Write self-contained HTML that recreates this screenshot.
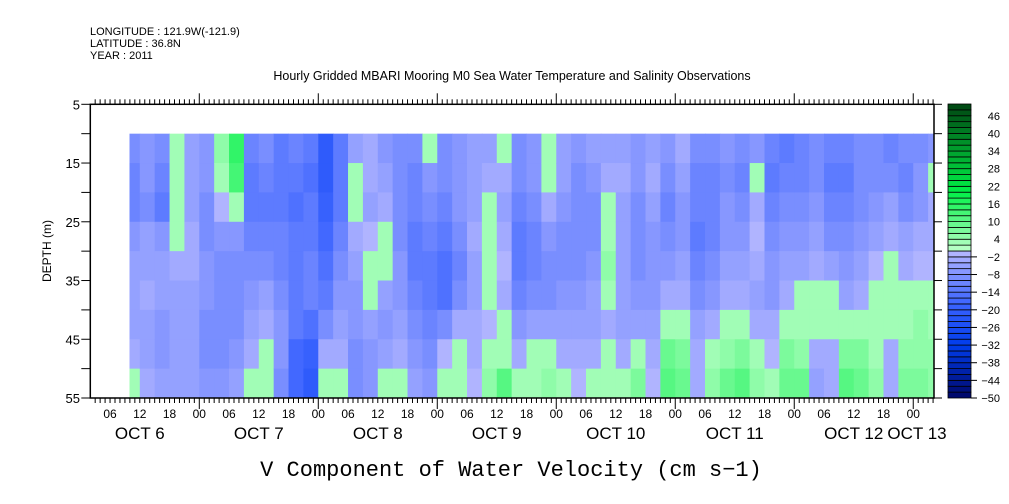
<!DOCTYPE html>
<html><head><meta charset="utf-8"><style>
body{margin:0;background:#fff;width:1009px;height:504px;overflow:hidden}
svg{display:block;font-family:"Liberation Sans",sans-serif}
</style></head><body>
<svg id="chart" width="1009" height="504" viewBox="0 0 1009 504">
<g font-size="11" fill="#000">
<text x="90" y="35">LONGITUDE : 121.9W(-121.9)</text>
<text x="90" y="47">LATITUDE : 36.8N</text>
<text x="90" y="59">YEAR : 2011</text>
</g>
<text x="512" y="80" font-size="12.5" text-anchor="middle">Hourly Gridded MBARI Mooring M0 Sea Water Temperature and Salinity Observations</text>
<g id="cells"></g>
<g id="axes"></g>
<g id="cbar"></g>
<text transform="translate(51,251) rotate(-90)" font-size="12" text-anchor="middle">DEPTH (m)</text>
<text x="511" y="476" font-size="22" text-anchor="middle" font-family="Liberation Mono, monospace">V Component of Water Velocity (cm s−1)</text>
</svg>
<script>
// columns: start hour of each 3h column (hours since Oct 6 00:00)
const colStartHours = [];
for (let k = 0; k < 55; k++) colStartHours.push(9 + 3 * k);
const depthBands = [10,15,20,25,30,35,40,45,50];
const values = [
[-10,-12,-12,-8,-6,-5,-5,-3,2],
[-8,-8,-10,-6,-5,-4,-6,-5,-4],
[-10,-12,-14,-8,-6,-6,-8,-8,-6],
[3,3,2,2,-3,-5,-5,-6,-5],
[-6,-5,-5,-4,-4,-5,-6,-6,-5],
[-8,-8,-10,-10,-8,-8,-10,-10,-8],
[4,3,-2,-8,-10,-10,-10,-10,-8],
[14,12,3,-8,-10,-10,-10,-8,-6],
[-12,-14,-14,-12,-10,-8,-6,-4,2],
[-10,-12,-14,-12,-10,-6,-4,2,3],
[-14,-14,-14,-12,-12,-10,-8,-8,-10],
[-12,-14,-16,-14,-14,-14,-14,-18,-18],
[-14,-16,-14,-14,-12,-12,-16,-20,-22],
[-22,-22,-20,-18,-16,-14,-10,-4,2],
[-14,-14,-14,-12,-10,-8,-6,-4,2],
[-6,2,2,-4,-6,-8,-8,-10,-10],
[-4,-4,-5,-2,2,3,-6,-8,-8],
[-8,-5,-4,2,2,-6,-8,-6,2],
[-10,-10,-10,-10,-8,-8,-6,-3,2],
[-10,-12,-12,-14,-14,-12,-10,-8,-6],
[2,-8,-10,-12,-14,-14,-12,-10,-8],
[-10,-10,-12,-14,-16,-16,-10,-2,3],
[-8,-8,-8,-10,-12,-10,-4,2,3],
[-5,-6,-5,-4,-5,-6,-4,-3,-2],
[-6,-4,2,3,3,3,-2,2,4],
[2,-4,-6,-4,-2,-4,2,3,10],
[-10,-10,-12,-14,-14,-12,-8,-4,2],
[-8,-8,-10,-12,-12,-10,-6,2,3],
[2,2,-4,-8,-10,-10,-6,2,4],
[-6,-6,-8,-10,-10,-8,-6,-4,3],
[-8,-10,-10,-10,-10,-8,-6,-3,-2],
[-6,-8,-10,-10,-8,-6,-6,-4,2],
[-6,-4,2,3,4,3,-4,2,3],
[-5,-4,-5,-6,-6,-6,-6,-3,3],
[-8,-8,-10,-10,-10,-8,-5,3,6],
[-5,-4,-6,-8,-8,-8,-5,-3,-2],
[-8,-10,-12,-10,-8,-4,3,8,10],
[-4,-6,-8,-8,-6,-4,3,6,8],
[-10,-12,-12,-14,-12,-10,-6,-4,-3],
[-10,-12,-12,-12,-10,-8,-3,3,4],
[-8,-10,-8,-8,-6,-4,3,4,8],
[-10,-12,-10,-8,-6,-4,3,6,10],
[-8,2,-4,-2,-4,-6,-4,2,4],
[-12,-14,-12,-10,-8,-8,-4,-2,2],
[-14,-12,-10,-8,-6,-4,3,6,8],
[-12,-12,-10,-8,-6,2,3,4,8],
[-10,-10,-8,-6,-4,2,3,-4,-6],
[-12,-14,-12,-10,-6,3,2,-3,-4],
[-12,-14,-12,-10,-8,-6,2,6,10],
[-10,-10,-10,-8,-6,-3,3,6,8],
[-10,-10,-8,-6,-2,3,3,3,4],
[-12,-10,-6,-4,3,3,2,-3,-4],
[-10,-12,-10,-6,-4,3,3,4,6],
[-10,-8,-8,-4,-2,3,4,4,6],
[-8,2,-4,-3,-2,3,3,4,4]
];
const depthTicks = [5,10,15,20,25,30,35,40,45,50,55];
const depthLabels = ["5","15","25","35","45","55"];
const cbarLabels = [46,40,34,28,22,16,10,4,-2,-8,-14,-20,-26,-32,-38,-44,-50];
const dayLabels = ["OCT  6","OCT  7","OCT  8","OCT  9","OCT 10","OCT 11","OCT 12","OCT 13"];

const NS="http://www.w3.org/2000/svg";
const X0=90.3, X1=934, Y0=104.3, Y1=398, T0=80.3, PXH=4.958;
const xOf=h=>T0+PXH*h;
const yOf=d=>Y0+(d-5)*(Y1-Y0)/50;
function lerp(a,b,t){return a.map((v,i)=>Math.round(v+(b[i]-v)*t));}
function color(v){
  const bin=Math.floor(v/2)*2;
  if(bin<0){
    const t=Math.min(1,(-bin-2)/48);
    let c;
    if(t<0.35) c=lerp([176,180,255],[60,100,255],t/0.35);
    else if(t<0.65) c=lerp([60,100,255],[0,60,235],(t-0.35)/0.3);
    else c=lerp([0,60,235],[0,10,110],(t-0.65)/0.35);
    return `rgb(${c})`;
  } else {
    const t=Math.min(1,bin/48);
    let c;
    if(t<0.4) c=lerp([180,255,195],[0,240,70],t/0.4);
    else c=lerp([0,240,70],[0,75,20],(t-0.4)/0.6);
    return `rgb(${c})`;
  }
}
function mk(tag,attrs,parent){const e=document.createElementNS(NS,tag);for(const k in attrs)e.setAttribute(k,attrs[k]);parent.appendChild(e);return e;}
const cells=document.getElementById('cells');
for(let k=0;k<colStartHours.length;k++){
  let xa=Math.max(129.5,xOf(colStartHours[k])), xb=Math.min(X1,xOf(colStartHours[k]+3));
  if(xb<=xa) continue;
  for(let j=0;j<depthBands.length;j++){
    const ya=yOf(depthBands[j]), yb=yOf(depthBands[j]+5);
    const r=mk('rect',{x:xa,y:ya,width:xb-xa+0.5,height:yb-ya+0.5,fill:color(values[k][j])},cells);
    
    
  }
}
const ax=document.getElementById('axes');
const frame=mk('rect',{x:X0,y:Y0,width:X1-X0,height:Y1-Y0,fill:'none',stroke:'#000','stroke-width':1.5},ax);


for(let h=2;h<=172;h++){
  const x=xOf(h); if(x<X0||x>X1) continue;
  const len=h%24===0?11:5;
  mk('line',{x1:x,y1:Y1,x2:x,y2:Y1+len,stroke:'#000','stroke-width':1},ax);
  mk('line',{x1:x,y1:Y0,x2:x,y2:Y0-len,stroke:'#000','stroke-width':1},ax);
  if(h%6===0){
    const t=mk('text',{x:x,y:418,'font-size':12,'text-anchor':'middle'},ax);
    t.textContent=String(h%24).padStart(2,'0');
    
    
  }
}
dayLabels.forEach((s,i)=>{
  const x= i<7 ? xOf(24*i+12) : 917;
  const t=mk('text',{x:x,y:439,'font-size':17,'text-anchor':'middle','xml:space':'preserve'},ax);
  t.textContent=s;
  
  
});
depthTicks.forEach(d=>{
  const y=yOf(d);
  mk('line',{x1:X0-9,y1:y,x2:X0,y2:y,stroke:'#000','stroke-width':1},ax);
  mk('line',{x1:X1,y1:y,x2:X1+8,y2:y,stroke:'#000','stroke-width':1},ax);
});
depthLabels.forEach(s=>{
  const t=mk('text',{x:80,y:yOf(+s)+5,'font-size':13,'text-anchor':'end'},ax);
  t.textContent=s;
  
  
});
const cb=document.getElementById('cbar');
const CX=948, CW=23, CY0=104, CY1=398;
for(let b=-50;b<50;b+=2){
  const ya=CY1-(b+52)*(CY1-CY0)/100, yb=CY1-(b+50)*(CY1-CY0)/100;
  const r=mk('rect',{x:CX,y:ya,width:CW,height:yb-ya,fill:color(b),stroke:'#000','stroke-width':0.8},cb);
  
  
}
cbarLabels.forEach(v=>{
  const y=CY1-(v+50)*(CY1-CY0)/100;
  if(v<0) mk('line',{x1:CX+CW,y1:y,x2:CX+CW+6,y2:y,stroke:'#000'},cb);
  const t=mk('text',{x:1000,y:y+4,'font-size':11,'text-anchor':'end'},cb);
  t.textContent=v<0?'−'+(-v):String(v);
  
  
});
</script>
</body></html>
